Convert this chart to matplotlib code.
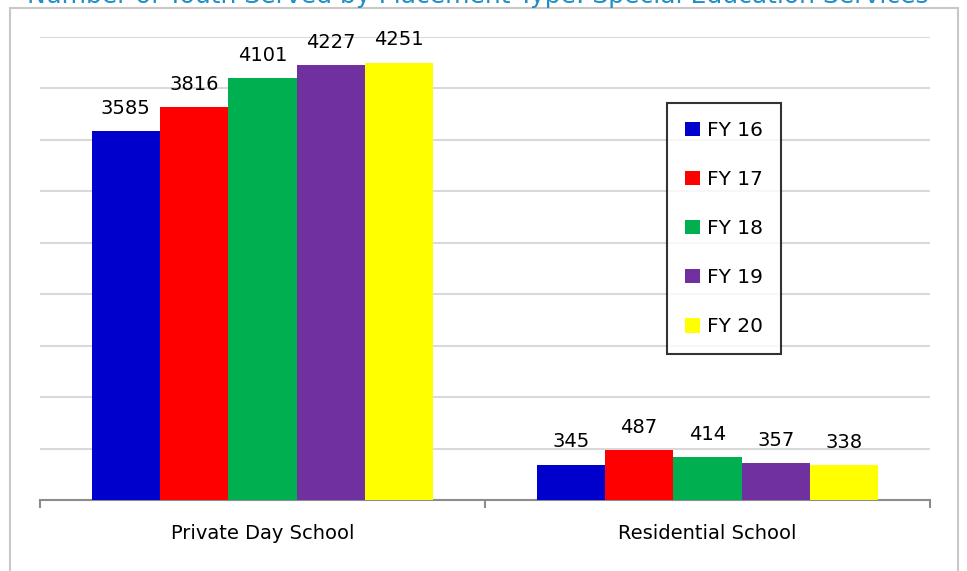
import matplotlib
matplotlib.use("Agg")
import matplotlib.pyplot as plt
from matplotlib.patches import Rectangle, Patch
import numpy as np

categories = ["Private Day School", "Residential School"]
series_labels = ["FY 16", "FY 17", "FY 18", "FY 19", "FY 20"]
values = {
    "FY 16": [3585, 345],
    "FY 17": [3816, 487],
    "FY 18": [4101, 414],
    "FY 19": [4227, 357],
    "FY 20": [4251, 338],
}
colors = ["#0000CC", "#FF0000", "#00B050", "#7030A0", "#FFFF00"]
title = "Number of Youth Served by Placement Type: Special Education Services"

W, H = 967, 571
fig = plt.figure(figsize=(W / 100, H / 100), dpi=100)
plt.rcParams['font.family'] = ['DejaVu Sans']

# outer chart border
fig.patches.append(Rectangle((10 / W, -0.05), 948 / W, 1.05 - 8 / H,
                             transform=fig.transFigure, fill=False,
                             edgecolor="#c8c8c8", linewidth=1.5))
fig.text(478 / W, 1 + 4 / H, title, ha="center", va="center",
         fontsize=18, color="#1f8fc4")

ax = fig.add_axes([40 / W, (H - 500) / H, 890 / W, 463 / H])
ax.set_xlim(-0.5, 1.5)
ax.set_ylim(0, 4500)
x = np.arange(len(categories))
bw = 0.1537
n = len(series_labels)
handles = []
for i, (lab, c) in enumerate(zip(series_labels, colors)):
    pos = x + (i - (n - 1) / 2) * bw
    bars = ax.bar(pos, values[lab], width=bw, color=c, label=lab, zorder=3)
    for b, v in zip(bars, values[lab]):
        ax.annotate(str(v), (b.get_x() + b.get_width() / 2, v),
                    xytext=(0, 9.5), textcoords="offset points",
                    ha="center", va="bottom", fontsize=14)
    handles.append(Patch(facecolor=c, label=lab))

ax.set_yticks(np.arange(0, 4501, 500))
ax.tick_params(axis="y", length=0, labelleft=False)
ax.yaxis.grid(True, color="#d9d9d9", linewidth=1.5, zorder=0)
ax.set_axisbelow(True)
for s in ["top", "right", "left"]:
    ax.spines[s].set_visible(False)
ax.spines["bottom"].set_color("#8c8c8c")
ax.spines["bottom"].set_linewidth(1.5)
ax.set_xticks([-0.5, 0.5, 1.5])
ax.set_xticklabels([])
ax.tick_params(axis="x", which="major", length=6, width=1.5, color="#8c8c8c")
ax.set_xticks(x, minor=True)
ax.set_xticklabels(categories, minor=True, fontsize=14)
ax.tick_params(axis="x", which="minor", length=0, pad=17)

leg = ax.legend(handles=handles, loc="upper left",
                bbox_to_anchor=(667 / W, 1 - 103 / H), bbox_transform=fig.transFigure,
                fontsize=14.5, frameon=True, fancybox=False, edgecolor="black",
                handlelength=0.75, handleheight=0.75, handletextpad=0.35,
                labelspacing=1.49, borderpad=0.9, borderaxespad=0)
leg.get_frame().set_linewidth(1.5)

fig.savefig("out.png", dpi=100)
